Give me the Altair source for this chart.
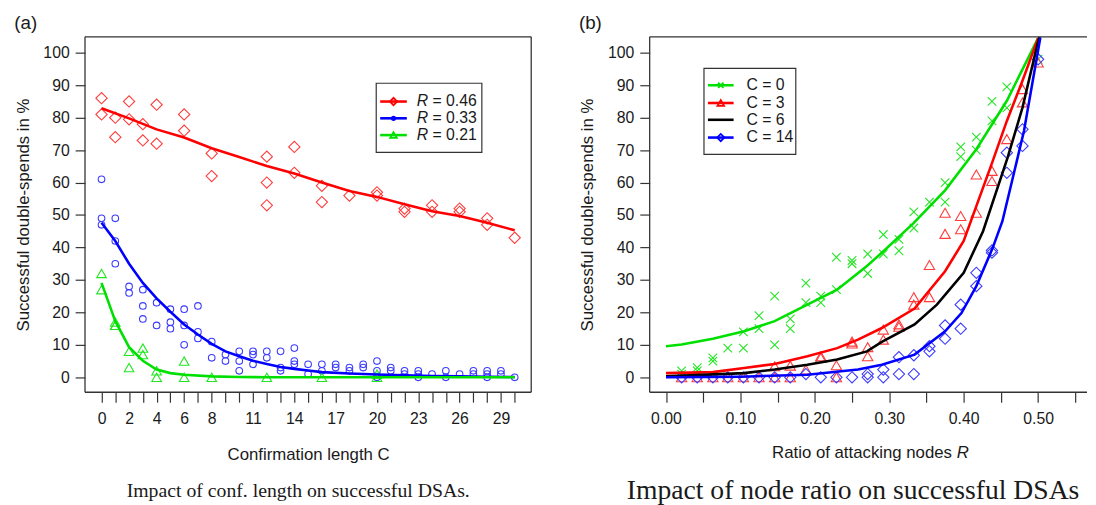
import json
import altair as alt
import pandas as pd

# ---------------- panel (a): confirmation length ----------------
a_red_C = [0, 0, 1, 1, 2, 2, 3, 3, 4, 4, 6, 6, 8, 8, 12, 12, 12, 14, 14, 16, 16, 18,
           20, 20, 22, 22, 24, 24, 26, 26, 28, 28, 30]
a_red_v = [86, 81, 80, 74, 85, 79.5, 78, 73, 84, 72, 81, 76, 69, 62, 68, 60, 53, 71, 63, 59, 54, 56,
           57, 56, 52, 51, 53, 51, 52, 51, 49, 47, 43]

a_blue_C = [0, 0, 0, 1, 1, 1, 2, 2, 3, 3, 3, 4, 4, 5, 5, 5, 6, 6, 6, 7, 7, 7, 8, 8, 9, 9,
            10, 10, 10, 11, 11, 11, 12, 12, 13, 13, 13, 14, 14, 14, 15, 15, 16, 16, 17, 17,
            18, 18, 19, 19, 20, 20, 20, 21, 21, 22, 22, 23, 23, 23, 24, 25, 25, 26, 27, 27,
            28, 28, 28, 29, 29, 30]
a_blue_v = [61, 49, 47, 49, 42, 35, 28, 26, 27, 22, 18, 23, 16, 21, 17, 15, 21, 16, 10, 22, 14, 12, 11, 6, 7, 5,
            8, 5, 2, 8, 7, 4, 8, 6, 8, 3, 2, 9, 5, 4, 4, 1, 4, 2, 4, 3,
            3, 2, 4, 3, 5, 2, 0, 3, 2, 2, 1, 2, 1, 0, 1, 2, 0, 1, 2, 1,
            2, 1, 0, 2, 1, 0]

a_green_C = [0, 0, 1, 1, 1, 2, 2, 3, 3, 4, 4, 6, 6, 8, 12, 16, 20, 20]
a_green_v = [32, 27, 17, 16, 16, 8, 3, 9, 7, 2, 0, 5, 0, 0, 0, 0, 1, 0]

a_red_fit_C = [0, 2, 4, 6, 8, 10, 12, 14, 16, 18, 20, 22, 24, 26, 28, 30]
a_red_fit_v = [82.9, 79.8, 76.4, 73.9, 70.6, 67.9, 65.1, 62.8, 60, 57.4, 55.6, 53.3, 51.2, 49.7, 47.6, 45.3]

a_blue_fit_C = [0, 1, 2, 3, 4, 5, 6, 7, 8, 9, 10, 11, 12, 13, 14, 15, 16, 18, 20, 22, 24, 26, 28, 30]
a_blue_fit_v = [47.6, 42, 35, 29.1, 24.3, 20.2, 16.3, 13.2, 10.3, 8, 6.5, 5.1, 4.1, 3.2, 2.6, 2.1, 1.6,
                1.2, 0.9, 0.6, 0.4, 0.3, 0.2, 0.1]

a_green_fit_C = [0, 1, 2, 3, 4, 5, 6, 8, 10, 12, 16, 20, 25, 30]
a_green_fit_v = [29.1, 17.3, 9.3, 5.1, 2.4, 1.3, 0.8, 0.3, 0.1, 0.05, 0, 0, 0, 0]

a_tick_values = list(range(0, 31))
a_label_values = [0, 2, 4, 6, 8, 11, 14, 17, 20, 23, 26, 29]
a_legend_labels = ["0.46", "0.33", "0.21"]

# ---------------- panel (b): ratio of attacking nodes ----------------
b_green_R = [0.021, 0.021, 0.042, 0.042, 0.063, 0.063, 0.083, 0.104, 0.104, 0.125, 0.125,
             0.146, 0.146, 0.167, 0.167, 0.188, 0.188, 0.208, 0.208, 0.229, 0.229, 0.25, 0.25,
             0.271, 0.271, 0.292, 0.292, 0.313, 0.313, 0.333, 0.333, 0.354, 0.375, 0.375,
             0.396, 0.396, 0.417, 0.417, 0.438, 0.438, 0.458, 0.458, 0.5]
b_green_v = [2, 1, 3, 2, 6, 5, 9, 9, 14, 19, 15,
             25, 10, 18, 15, 29, 23, 25, 23, 37, 27, 36, 35,
             38, 32, 44, 38, 42.5, 39, 51, 46, 54, 60, 54,
             71, 68, 74, 70, 85, 79, 89.5, 83, 98]

b_red_R = [0.021, 0.042, 0.063, 0.083, 0.104, 0.125, 0.146, 0.146, 0.167, 0.167, 0.188,
           0.208, 0.208, 0.229, 0.229, 0.25, 0.25, 0.271, 0.271, 0.292, 0.292, 0.313, 0.313,
           0.333, 0.333, 0.354, 0.354, 0.375, 0.375, 0.396, 0.396, 0.417, 0.417, 0.438, 0.438,
           0.458, 0.479, 0.479, 0.5]
b_red_v = [0, 0, 0, 0, 0, 0, 3.4, 0, 3.6, 0, 2.4,
           6.5, 6, 3.7, 0, 11, 10.4, 9.3, 6.5, 14.7, 11.6, 16.3, 15.6,
           24.7, 22.4, 34.6, 24.7, 50.7, 44.2, 49.7, 45.6, 62.5, 50.7, 63.6, 60.5,
           73.4, 88.8, 84.7, 97]

b_blue_R = [0.021, 0.042, 0.063, 0.083, 0.104, 0.125, 0.146, 0.167, 0.188, 0.208, 0.229, 0.25,
            0.271, 0.271, 0.292, 0.292, 0.313, 0.313, 0.333, 0.333, 0.354, 0.354, 0.375, 0.375,
            0.396, 0.396, 0.417, 0.417, 0.438, 0.438, 0.458, 0.458, 0.479, 0.479, 0.5]
b_blue_v = [0, 0, 0, 0, 0, 0, 0, 0, 1, 0, 0, 0,
            1, 0, 2.4, 0, 6.2, 1, 6.8, 1, 9.6, 8, 16, 11.9,
            22.4, 15, 32.2, 28.1, 39.1, 38.4, 69.2, 63, 76.4, 71.3, 98]

b_green_fit_R = [0, 0.021, 0.063, 0.105, 0.146, 0.19, 0.23, 0.27, 0.29, 0.333, 0.375, 0.417, 0.458, 0.5]
b_green_fit_v = [9.6, 10.1, 11.9, 14.2, 17.3, 22.4, 27, 34.3, 38.4, 47.6, 57.6, 70.3, 85.2, 104.5]

b_red_fit_R = [0, 0.063, 0.105, 0.146, 0.19, 0.23, 0.258, 0.29, 0.334, 0.375, 0.4, 0.438, 0.458, 0.479, 0.5]
b_red_fit_v = [1.3, 1.6, 2.9, 4.1, 6.5, 9, 11.6, 15.2, 21.2, 32.7, 42, 66, 79, 91.4, 104.5]

b_black_fit_R = [0, 0.105, 0.146, 0.19, 0.23, 0.27, 0.29, 0.334, 0.364, 0.4, 0.426, 0.459, 0.479, 0.497, 0.503]
b_black_fit_v = [0.3, 1.3, 2.4, 3.9, 5.5, 8, 10.9, 16.3, 22.4, 32.2, 45, 67.7, 83.1, 100.6, 106]

b_blue_fit_R = [0, 0.1, 0.19, 0.258, 0.29, 0.334, 0.375, 0.397, 0.417, 0.439, 0.452, 0.466, 0.481, 0.492, 0.503]
b_blue_fit_v = [0, 0.2, 0.8, 2.4, 3.9, 7, 14.2, 19.8, 28.1, 39.9, 48.1, 61.5, 75.9, 90.3, 104.7]

b_tick_values = [0.0, 0.05, 0.10, 0.15, 0.20, 0.25, 0.30, 0.35, 0.40, 0.45, 0.50, 0.55]
b_label_values = ["0.00", "0.10", "0.20", "0.30", "0.40", "0.50"]
b_legend_labels = ["C = 0", "C = 3", "C = 6", "C = 14"]

y_tick_values = [0, 10, 20, 30, 40, 50, 60, 70, 80, 90, 100]

# ---------------- styling ----------------
FONT = "Liberation Sans"
SERIF = "Liberation Serif"
TXT = "#1a1a1a"
FRAME = "#333333"
RED, BLUE, GREEN, BLACK = "#ff0000", "#0000ff", "#00e000", "#000000"
RED_P, BLUE_P, GREEN_P = "#ff3b3b", "#3b3bff", "#22e622"
W_A, W_B, H = 452, 443, 360
XSHAPE = "M-1,-1L1,1M-1,1L1,-1"
TITLE_SIZE = 17

one = pd.DataFrame({"k": [0]})


def df(x, y):
    return pd.DataFrame({"x": x, "y": y})


def hrule(x1, x2, y, color, width):
    return alt.Chart(one).mark_rule(color=color, strokeWidth=width).encode(
        x=alt.value(x1), x2=alt.value(x2), y=alt.value(y))


def vrule(x, y1, y2, color, width):
    return alt.Chart(one).mark_rule(color=color, strokeWidth=width).encode(
        x=alt.value(x), y=alt.value(y1), y2=alt.value(y2))


def marker(x, y, shape, color, size, filled=False, sw=1.5):
    return alt.Chart(one).mark_point(shape=shape, color=color, size=size, filled=filled,
                                     strokeWidth=sw, opacity=1).encode(
        x=alt.value(x), y=alt.value(y))


def label(x, y, text, size=16, style="normal", align="left", font=FONT):
    return alt.Chart(one).mark_text(text=text, align=align, baseline="middle", font=font,
                                    fontSize=size, fontStyle=style, color=TXT).encode(
        x=alt.value(x), y=alt.value(y))


def box(x1, x2, y1, y2):
    return alt.Chart(one).mark_rect(fill="white", stroke=FRAME, strokeWidth=1.2).encode(
        x=alt.value(x1), x2=alt.value(x2), y=alt.value(y1), y2=alt.value(y2))


y_enc = alt.Y("y:Q", scale=alt.Scale(domain=[-4.6, 104.9], nice=False, zero=False),
              axis=alt.Axis(values=y_tick_values, title="Successful double-spends in %",
                            titlePadding=11, labelPadding=6))

# ---------------- panel (a) ----------------
a_lbl_expr = "indexof(%s, datum.value) >= 0 ? datum.label : ''" % json.dumps(a_label_values)
xa = alt.X("x:Q", scale=alt.Scale(domain=[-1.2, 31.2], nice=False, zero=False),
           axis=alt.Axis(values=a_tick_values, labelExpr=a_lbl_expr,
                         title="Confirmation length C", titlePadding=20, labelPadding=9))


def pts(x, y, shape, color, size):
    return alt.Chart(df(x, y)).mark_point(shape=shape, color=color, size=size, filled=False,
                                          strokeWidth=1.1, opacity=1, clip=True).encode(x=xa, y=y_enc)


def fit(x, y, color, xenc):
    return alt.Chart(df(x, y)).mark_line(color=color, strokeWidth=2.6, clip=True).encode(
        x=xenc, y=y_enc)


panel_a_layers = [
    pts(a_red_C, a_red_v, "diamond", RED_P, 130),
    pts(a_blue_C, a_blue_v, "circle", BLUE_P, 45),
    pts(a_green_C, a_green_v, "triangle-up", GREEN_P, 95),
    fit(a_red_fit_C, a_red_fit_v, RED, xa),
    fit(a_blue_fit_C, a_blue_fit_v, BLUE, xa),
    fit(a_green_fit_C, a_green_fit_v, GREEN, xa),
    # frame
    hrule(0, W_A, 0, FRAME, 1.3), hrule(0, W_A, H, FRAME, 1.3),
    vrule(0, 0, H, FRAME, 1.3), vrule(W_A, 0, H, FRAME, 1.3),
    # legend
    box(295, 402, 47, 117),
]
a_rows = [65.5, 82.5, 99.5]
a_cols = [RED, BLUE, GREEN]
a_marks = [("diamond", 55, False, 1.8), ("circle", 28, True, 1), ("triangle-up", 45, False, 1.8)]
for yy, col, (shp, sz, fl, sw), lab in zip(a_rows, a_cols, a_marks, a_legend_labels):
    panel_a_layers += [
        hrule(299, 326, yy, col, 2.6),
        marker(312.5, yy, shp, col, sz, fl, sw),
        label(336, yy, "R", style="italic"),
        label(352, yy, "= " + lab),
    ]
panel_a_layers += [label(216, H + 100, "Impact of conf. length on successful DSAs.", size=20,
                         align="center", font=SERIF)]

panel_a = alt.layer(*panel_a_layers).properties(
    width=W_A, height=H,
    title=alt.TitleParams("(a)", anchor="start", frame="bounds", fontSize=19,
                          fontWeight="normal", font=FONT, color=TXT, offset=3))

# ---------------- panel (b) ----------------
b_lbl_expr = "indexof(%s, format(datum.value, '.2f')) >= 0 ? format(datum.value, '.2f') : ''" % \
    json.dumps(b_label_values)
xb = alt.X("x:Q", scale=alt.Scale(domain=[-0.0219, 0.5657], nice=False, zero=False),
           axis=alt.Axis(values=b_tick_values, labelExpr=b_lbl_expr, title=None, labelPadding=9))


def ptsb(x, y, shape, color, size):
    return alt.Chart(df(x, y)).mark_point(shape=shape, color=color, size=size, filled=False,
                                          strokeWidth=1.1, opacity=1, clip=True).encode(x=xb, y=y_enc)


panel_b_layers = [
    ptsb(b_green_R, b_green_v, XSHAPE, GREEN_P, 75),
    ptsb(b_red_R, b_red_v, "triangle-up", RED_P, 110),
    ptsb(b_blue_R, b_blue_v, "diamond", BLUE_P, 130),
    fit(b_green_fit_R, b_green_fit_v, GREEN, xb),
    fit(b_red_fit_R, b_red_fit_v, RED, xb),
    fit(b_black_fit_R, b_black_fit_v, BLACK, xb),
    fit(b_blue_fit_R, b_blue_fit_v, BLUE, xb),
    hrule(0, W_B, 0, FRAME, 1.3), hrule(0, W_B, H, FRAME, 1.3),
    vrule(0, 0, H, FRAME, 1.3),
    box(55, 148, 32, 119),
]
b_rows = [49, 67, 84, 102]
b_cols = [GREEN, RED, BLACK, BLUE]
b_marks = [(XSHAPE, 30, False, 1.8), ("triangle-up", 45, False, 1.8), None, ("diamond", 55, False, 1.8)]
for yy, col, mk, lab in zip(b_rows, b_cols, b_marks, b_legend_labels):
    panel_b_layers.append(hrule(59, 85, yy, col, 2.6))
    if mk is not None:
        panel_b_layers.append(marker(72, yy, mk[0], col, mk[1], mk[2], mk[3]))
    panel_b_layers.append(label(98, yy, lab))
panel_b_layers += [
    label(124, H + 62, "Ratio of attacking nodes", size=TITLE_SIZE),
    label(311, H + 62, "R", size=TITLE_SIZE, style="italic"),
    label(206, H + 100, "Impact of node ratio on successful DSAs", size=28, align="center", font=SERIF),
]

panel_b = alt.layer(*panel_b_layers).properties(
    width=W_B, height=H,
    title=alt.TitleParams("(b)", anchor="start", frame="bounds", fontSize=19,
                          fontWeight="normal", font=FONT, color=TXT, offset=3))

chart = alt.hconcat(panel_a, panel_b, spacing=47).properties(
    padding={"left": 6, "top": 3, "right": 0, "bottom": 0}
).configure_view(stroke=None).configure_axis(
    labelFont=FONT, titleFont=FONT, labelFontSize=16, titleFontSize=TITLE_SIZE,
    titleFontWeight="normal", labelColor=TXT, titleColor=TXT,
    tickColor=FRAME, tickSize=10, tickWidth=1.2, grid=False, domain=False
)

chart.save("out.html", embed_options={"renderer": "svg", "actions": False})
